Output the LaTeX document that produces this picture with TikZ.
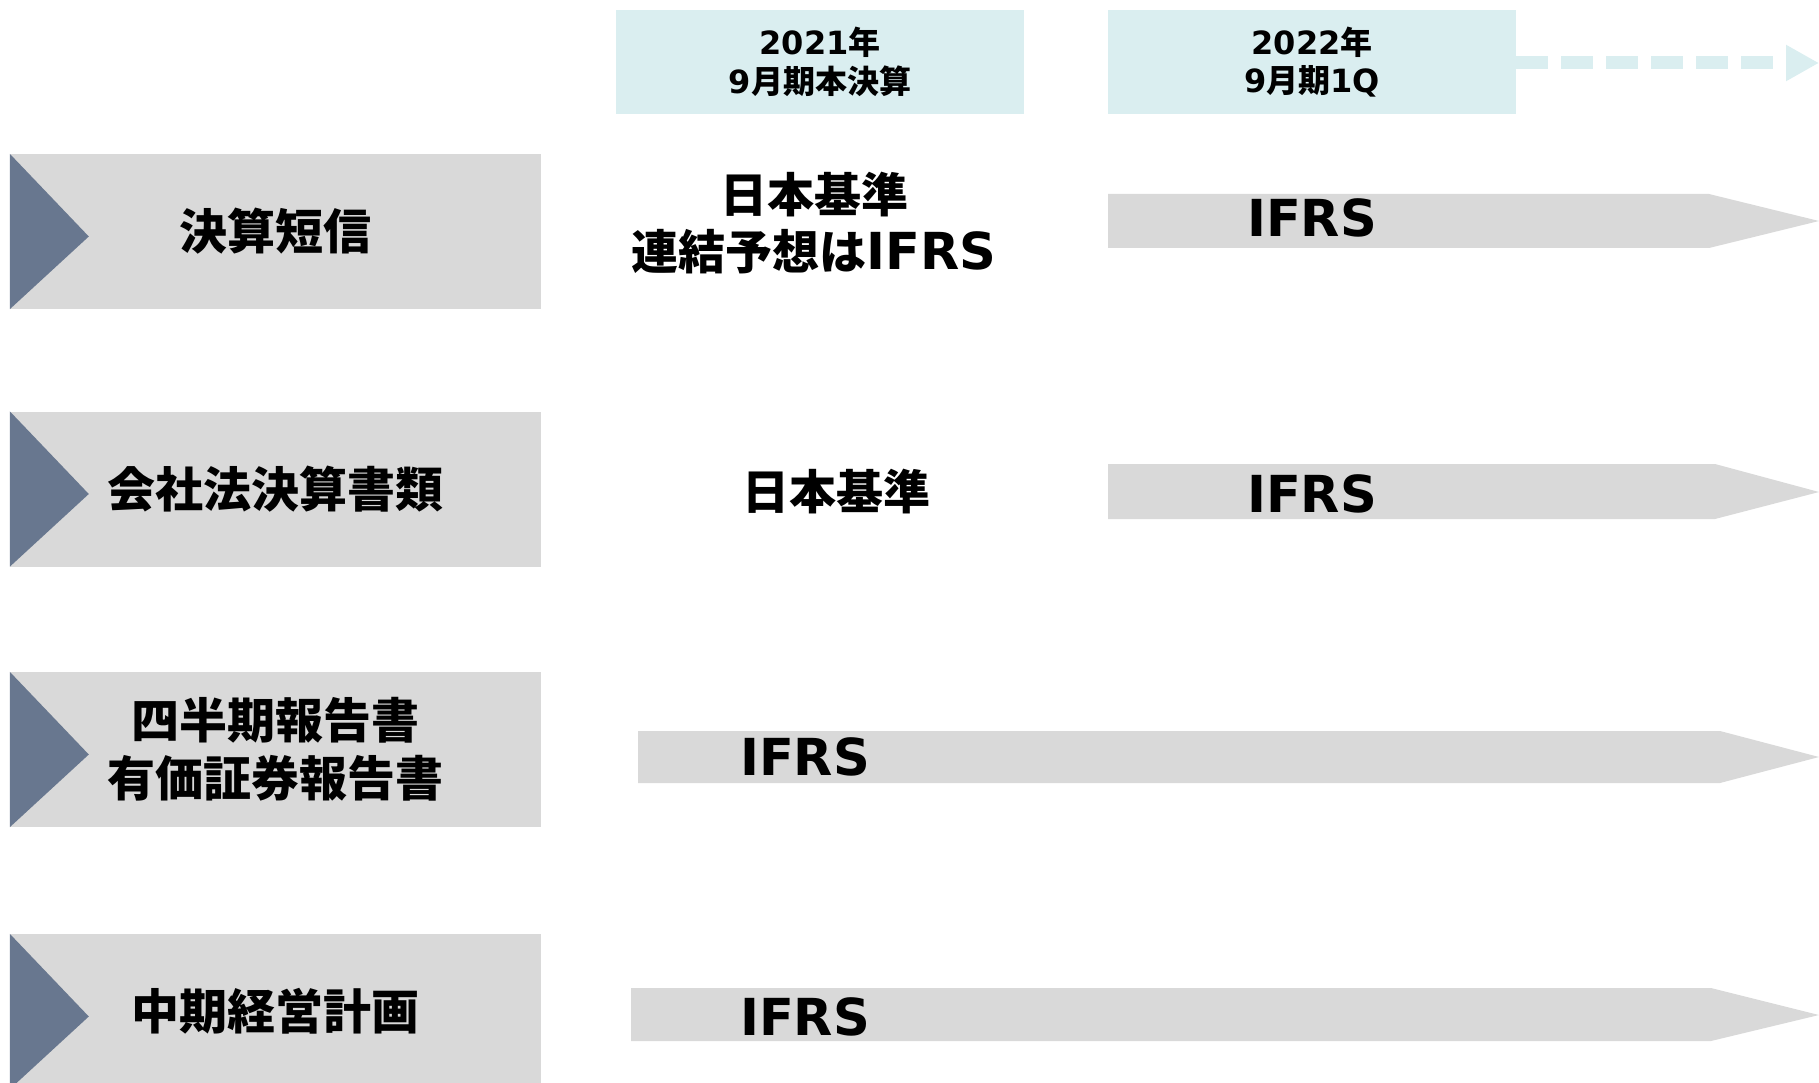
\documentclass[tikz,border=0pt]{standalone}
\usepackage{fontspec}
\newfontfamily\jpfont{Noto Sans CJK JP}
\newfontfamily\latfont{DejaVu Sans}
\usetikzlibrary{arrows.meta}

\definecolor{boxgray}{HTML}{D9D9D9}
\definecolor{markblue}{HTML}{68778F}
\definecolor{hdrcyan}{HTML}{DAEEF0}

\newcommand\ifrs{{\latfont\fontsize{51}{57}\selectfont IFRS}}

\tikzset{
  catbox/.style={fill=boxgray, minimum width=531pt, minimum height=155pt, inner sep=0pt,
    align=center, font=\jpfont\bfseries\fontsize{48}{58}\selectfont},
  hdrbox/.style={fill=hdrcyan, minimum width=408pt, minimum height=104pt, inner sep=0pt,
    align=center, font=\jpfont\bfseries\fontsize{32}{38.5}\selectfont},
  stdtext/.style={align=center, inner sep=0pt, font=\jpfont\bfseries\fontsize{47}{57}\selectfont},
  bandtext/.style={inner sep=0pt, font=\jpfont\bfseries}
}

\begin{document}
\begin{tikzpicture}[x=1pt,y=-1pt]
\useasboundingbox (0,0) rectangle (1819,1083);
\clip (0,0) rectangle (1819,1083);

% period headers
\node [hdrbox] (hdrA) at (820,62) {{\latfont 2021}年\\{\latfont 9}月期本決算};
\node [hdrbox] (hdrB) at (1312,62) {{\latfont 2022}年\\{\latfont 9}月期{\latfont 1Q}};
\coordinate (hdrEnd) at (1819,63);
\draw [hdrcyan, line width=13pt, dash pattern=on 32pt off 13pt,
  -{Triangle[length=33pt,width=34pt]}] (hdrB.east |- hdrEnd) -- (hdrEnd);

% document categories
\node [catbox] (tanshin) at (275.5,231.5) {決算短信};
\node [catbox] (kaisha) at (275.5,489) {会社法決算書類};
\node [catbox] (hokoku) at (275.5,749.5) {四半期報告書\\有価証券報告書};
\node [catbox] (chuki) at (275.5,1011.5) {中期経営計画};
\foreach \c in {tanshin,kaisha,hokoku,chuki}
  \fill [markblue] (\c.north west) -- ([xshift=79pt,yshift=-5pt]\c.west) -- (\c.south west) -- cycle;

% 2021 column
\node [stdtext] (jgaapA) at (814,223) {日本基準\\連結予想は\ifrs};
\node [stdtext] (jgaapB) at (836,492) {日本基準};

% IFRS bands
\fill [boxgray] (1108,194) -- (1709,194) -- (1819,221) -- (1709,248) -- (1108,248) -- cycle;
\node [bandtext] (ifrsA) at (1312,218) {\ifrs};
\fill [boxgray] (1108,464) -- (1715,464) -- (1819,492) -- (1715,519) -- (1108,519) -- cycle;
\node [bandtext] (ifrsB) at (1312,494) {\ifrs};
\fill [boxgray] (638,731) -- (1720,731) -- (1819,757) -- (1720,783) -- (638,783) -- cycle;
\node [bandtext] (ifrsC) at (805,757) {\ifrs};
\fill [boxgray] (631,988) -- (1711,988) -- (1819,1015) -- (1711,1041) -- (631,1041) -- cycle;
\node [bandtext] (ifrsD) at (805,1017) {\ifrs};
\end{tikzpicture}
\end{document}
